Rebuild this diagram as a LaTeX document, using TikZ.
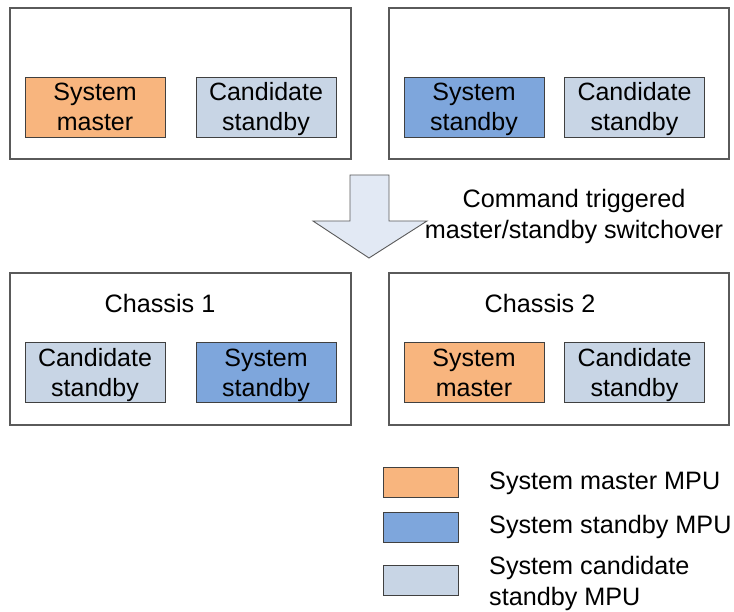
\documentclass[tikz,border=0pt]{standalone}
\usepackage{fontspec}
\setmainfont{Liberation Sans}
\definecolor{mastercol}{HTML}{F8B57E}
\definecolor{standbycol}{HTML}{7EA6DC}
\definecolor{candcol}{HTML}{C8D5E5}
\definecolor{arrowcol}{HTML}{E2E9F4}
\definecolor{framecol}{HTML}{5A5A5A}
% two centred lines with fixed height above and depth below
\newcommand{\twolines}[2]{\rule{0pt}{24pt}#1\\#2\rule[-6pt]{0pt}{6pt}}
\begin{document}
\begin{tikzpicture}[x=1pt,y=-1pt,
  chassis/.style={draw=framecol,line width=1.3pt,fill=white},
  mpu/.style={draw=black!75,line width=0.9pt,minimum width=140pt,minimum height=60pt,
    inner sep=0pt,align=center,font=\fontsize{25}{30}\selectfont},
  master/.style={mpu,fill=mastercol},
  sysstandby/.style={mpu,fill=standbycol},
  candidate/.style={mpu,fill=candcol},
  legendbox/.style={draw=black!75,line width=0.9pt,minimum width=75pt,minimum height=30pt,inner sep=0pt},
  label/.style={font=\fontsize{25.2}{31}\selectfont,inner sep=0pt},
  legendtext/.style={label,anchor=west,align=left}
]
\useasboundingbox (0,0) rectangle (734,612);

% chassis frames, before and after the switchover
\draw[chassis] (10,8) rectangle (351,159);
\draw[chassis] (389,8) rectangle (729,159);
\draw[chassis] (10,273) rectangle (351,425);
\draw[chassis] (389,273) rectangle (729,425);

% MPUs before the switchover
\node[master]     (a1) at (95,107)  {\twolines{System}{master}};
\node[candidate]  (a2) at (266,107) {\twolines{Candidate}{standby}};
\node[sysstandby] (b1) at (474,107) {\twolines{System}{standby}};
\node[candidate]  (b2) at (634.5,107) {\twolines{Candidate}{standby}};

% switchover arrow
\draw[draw=framecol,line width=0.9pt,fill=arrowcol]
  (350,175) -- (389,175) -- (389,221) -- (427,221) -- (369,258)
  -- (313,221) -- (350,221) -- cycle;
\node[label,align=center] (cmd) at (574,216) {Command triggered\\master/standby switchover};

% chassis after the switchover
\node[label] (c1) at (160,303) {Chassis 1};
\node[label] (c2) at (540,303) {Chassis 2};
\node[candidate]  (d1) at (95,372)  {\twolines{Candidate}{standby}};
\node[sysstandby] (d2) at (266,372) {\twolines{System}{standby}};
\node[master]     (e1) at (474,372) {\twolines{System}{master}};
\node[candidate]  (e2) at (634.5,372) {\twolines{Candidate}{standby}};

% legend
\node[legendbox,fill=mastercol]  (l1) at (420.5,482) {};
\node[legendbox,fill=standbycol] (l2) at (420.5,527) {};
\node[legendbox,fill=candcol]    (l3) at (420.5,580.5) {};
\node[legendtext] (t1) at (489,483) {System master MPU};
\node[legendtext] (t2) at (489,527) {System standby MPU};
\node[legendtext] (t3) at (489,583) {System candidate\\standby MPU};
\end{tikzpicture}
\end{document}
